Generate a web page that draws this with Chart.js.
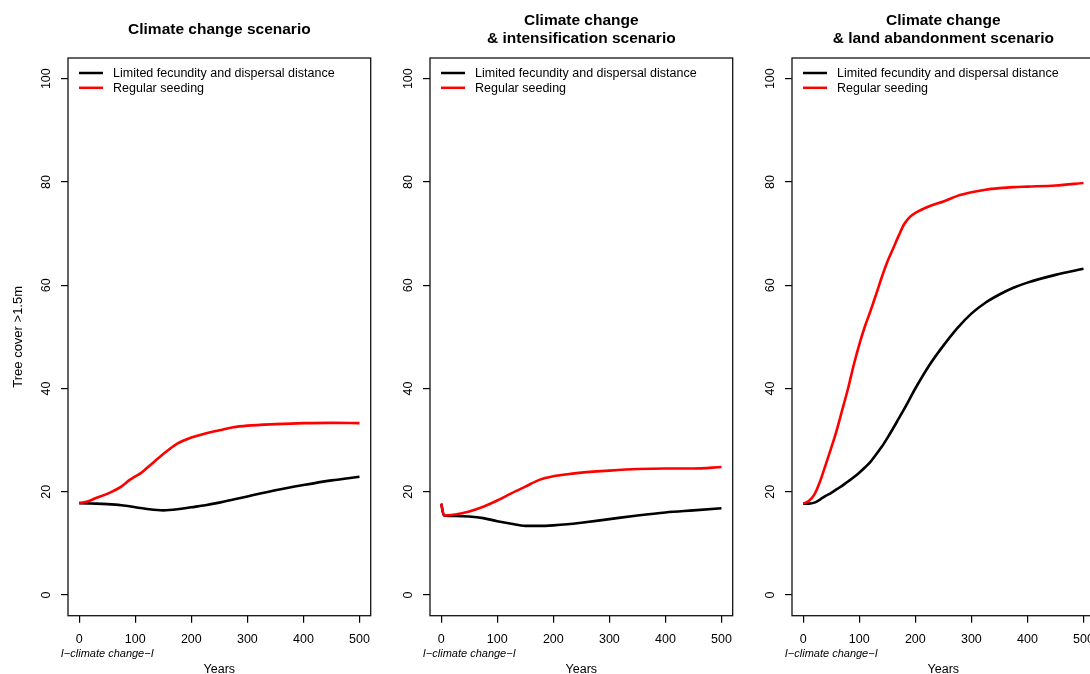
<!DOCTYPE html>
<html>
<head>
<meta charset="utf-8">
<script src="https://cdn.jsdelivr.net/npm/chart.js@4.4.1/dist/chart.umd.min.js"></script>
<style>
  html, body { margin: 0; padding: 0; background: #fff; overflow: hidden; width: 1090px; height: 674px; }
  canvas { position: absolute; top: 0; }
</style>
</head>
<body>
<canvas id="c1" width="380" height="674" style="left:0px"></canvas>
<canvas id="c2" width="380" height="674" style="left:362px"></canvas>
<canvas id="c3" width="380" height="674" style="left:724px"></canvas>
<script>
// tick labels and series names
var xTicks = [0, 100, 200, 300, 400, 500];
var yTicks = [0, 20, 40, 60, 80, 100];
var seriesNames = ["Limited fecundity and dispersal distance", "Regular seeding"];

// panel 1 - climate change
var years1 = [0, 15, 30, 50, 75, 90, 100, 110, 125, 150, 175, 200, 225, 250, 275, 300, 350, 400, 450, 500];
var limited1 = [17.8, 17.75, 17.7, 17.6, 17.4, 17.2, 17.0, 16.85, 16.6, 16.4, 16.6, 17.0, 17.4, 17.9, 18.5, 19.1, 20.3, 21.3, 22.2, 22.9];
var seeding1 = [17.8, 18.1, 18.8, 19.6, 21.0, 22.3, 23.0, 23.6, 25.0, 27.3, 29.3, 30.5, 31.3, 31.9, 32.5, 32.8, 33.1, 33.3, 33.35, 33.3];

// panel 2 - climate change & intensification
var years2 = [0, 5, 25, 50, 75, 100, 125, 150, 175, 200, 225, 250, 300, 350, 400, 450, 500];
var limited2 = [17.7, 15.4, 15.3, 15.2, 14.9, 14.3, 13.8, 13.4, 13.4, 13.5, 13.7, 14.0, 14.7, 15.4, 16.0, 16.4, 16.8];
var seeding2 = [17.7, 15.4, 15.6, 16.2, 17.1, 18.3, 19.7, 21.0, 22.3, 23.0, 23.4, 23.7, 24.1, 24.4, 24.5, 24.5, 24.8];

// panel 3 - climate change & land abandonment
var years3 = [0, 10, 20, 30, 40, 50, 60, 70, 80, 90, 100, 110, 120, 130, 140, 150, 160, 170, 180, 190, 200, 225, 250, 275, 300, 325, 350, 375, 400, 450, 500];
var limited3 = [17.7, 17.7, 17.9, 18.5, 19.2, 19.8, 20.5, 21.2, 22.0, 22.8, 23.7, 24.7, 25.8, 27.2, 28.7, 30.4, 32.2, 34.1, 36.0, 38.0, 40.0, 44.5, 48.3, 51.7, 54.5, 56.6, 58.2, 59.5, 60.5, 62.0, 63.2];
var seeding3 = [17.7, 18.2, 19.5, 22.0, 25.2, 28.5, 32.0, 36.0, 40.0, 44.5, 48.5, 52.0, 55.0, 58.2, 61.5, 64.5, 67.0, 69.5, 71.8, 73.2, 74.0, 75.3, 76.2, 77.3, 78.0, 78.5, 78.8, 79.0, 79.1, 79.3, 79.8];

var FONT = "'Liberation Sans', Arial, Helvetica, sans-serif";

var toPoints = function(xs, ys) {
  return xs.map(function(x, i) { return {x: x, y: ys[i]}; });
};

// box, titles, legend and axis captions drawn like the R base plot
var panelText = {
  id: 'panelText',
  afterDraw: function(chart, args, opts) {
    var ctx = chart.ctx;
    var a = chart.chartArea;
    var cx = (a.left + a.right) / 2;
    ctx.save();

    ctx.strokeStyle = '#111';
    ctx.lineWidth = 1.3;
    ctx.strokeRect(a.left, a.top, a.right - a.left, a.bottom - a.top);

    ctx.fillStyle = '#000';
    ctx.textAlign = 'center';
    ctx.textBaseline = 'alphabetic';
    ctx.font = 'bold 15.5px ' + FONT;
    var lines = opts.title;
    if (lines.length == 1) {
      ctx.fillText(lines[0], cx, 34);
    } else {
      ctx.fillText(lines[0], cx, 25);
      ctx.fillText(lines[1], cx, 42.5);
    }

    ctx.font = '12.5px ' + FONT;
    ctx.fillText('Years', cx, 673);

    ctx.font = 'italic 11px ' + FONT;
    ctx.fillText('I\u2212climate change\u2212I', chart.scales.x.getPixelForValue(50), 656.5);

    if (opts.yTitle) {
      ctx.save();
      ctx.translate(21.5, (a.top + a.bottom) / 2);
      ctx.rotate(-Math.PI / 2);
      ctx.font = '13px ' + FONT;
      ctx.fillText(opts.yTitle, 0, 0);
      ctx.restore();
    }

    // legend
    var colors = ['#000000', '#ff0000'];
    ctx.textAlign = 'left';
    ctx.textBaseline = 'middle';
    ctx.font = '12.5px ' + FONT;
    ctx.lineWidth = 2.5;
    for (var i = 0; i < seriesNames.length; i++) {
      var y = a.top + 15 + i * 14.8;
      ctx.strokeStyle = colors[i];
      ctx.beginPath();
      ctx.moveTo(a.left + 11, y);
      ctx.lineTo(a.left + 35, y);
      ctx.stroke();
      ctx.fillText(seriesNames[i], a.left + 45, y + 0.5);
    }
    ctx.restore();
  }
};

var makePanel = function(id, title, years, limited, seeding, yTitle) {
  var ctx = document.getElementById(id).getContext('2d');
  var tickStyle = {color: '#000', font: {family: FONT, size: 12.5}};
  return new Chart(ctx, {
    type: 'line',
    data: {
      datasets: [
        {
          label: seriesNames[0],
          data: toPoints(years, limited),
          borderColor: '#000000',
          borderWidth: 2.6,
          pointRadius: 0,
          cubicInterpolationMode: 'monotone',
          fill: false,
          order: 1
        },
        {
          label: seriesNames[1],
          data: toPoints(years, seeding),
          borderColor: '#ff0000',
          borderWidth: 2.6,
          pointRadius: 0,
          cubicInterpolationMode: 'monotone',
          fill: false,
          order: 0
        }
      ]
    },
    options: {
      responsive: false,
      animation: false,
      devicePixelRatio: 1,
      layout: {padding: {left: 0, top: 58, right: 9.3, bottom: 0}},
      plugins: {
        legend: {display: false},
        tooltip: {enabled: false},
        panelText: {title: title, yTitle: yTitle}
      },
      scales: {
        x: {
          type: 'linear',
          min: -20,
          max: 520,
          afterBuildTicks: function(s) { s.ticks = xTicks.map(function(v) { return {value: v}; }); },
          afterFit: function(s) { s.height = 58.3; },
          grid: {drawOnChartArea: false, drawTicks: true, tickLength: 7, color: '#000', lineWidth: 1.2},
          border: {display: false},
          ticks: Object.assign({padding: 9, maxRotation: 0, autoSkip: false}, tickStyle)
        },
        y: {
          type: 'linear',
          min: -4,
          max: 104,
          afterBuildTicks: function(s) { s.ticks = yTicks.map(function(v) { return {value: v}; }); },
          afterFit: function(s) { s.width = 68; },
          grid: {drawOnChartArea: false, drawTicks: true, tickLength: 7, color: '#000', lineWidth: 1.2},
          border: {display: false},
          ticks: Object.assign({padding: 4, minRotation: 90, maxRotation: 90, crossAlign: 'center', autoSkip: false}, tickStyle)
        }
      }
    },
    plugins: [panelText]
  });
};

makePanel('c1', ['Climate change scenario'], years1, limited1, seeding1, 'Tree cover >1.5m');
makePanel('c2', ['Climate change', '& intensification scenario'], years2, limited2, seeding2, null);
makePanel('c3', ['Climate change', '& land abandonment scenario'], years3, limited3, seeding3, null);
</script>
</body>
</html>
